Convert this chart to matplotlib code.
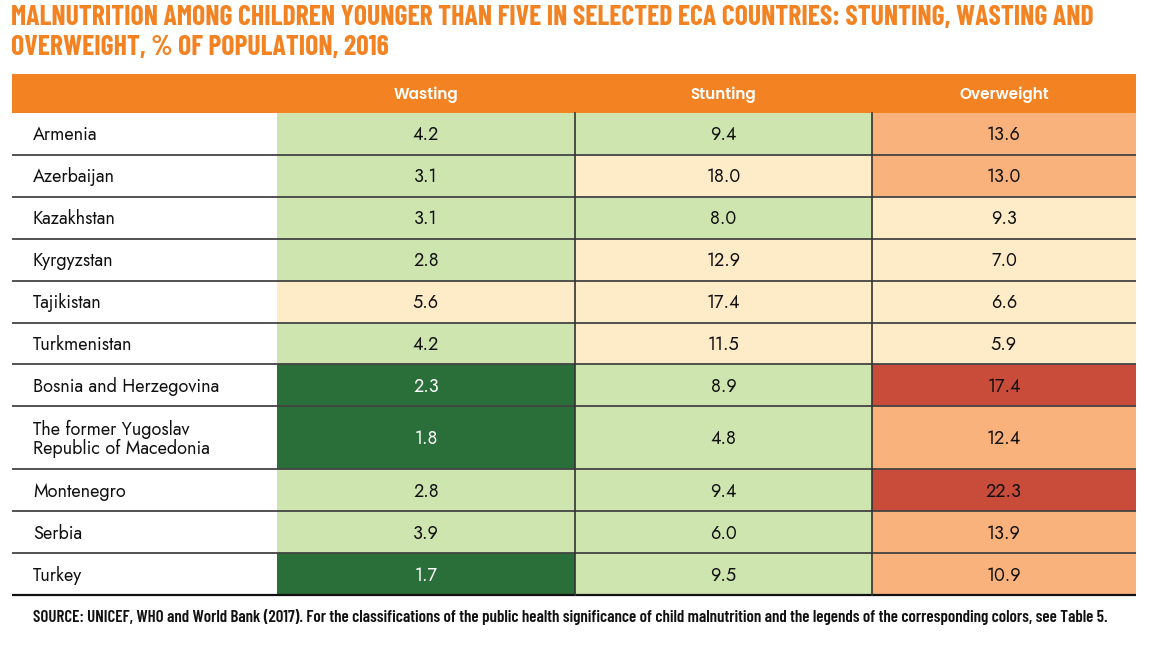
import matplotlib
matplotlib.use("Agg")
import matplotlib.pyplot as plt
from matplotlib.patches import Rectangle

title_lines = ["MALNUTRITION AMONG CHILDREN YOUNGER THAN FIVE IN SELECTED ECA COUNTRIES: STUNTING, WASTING AND",
               "OVERWEIGHT, % OF POPULATION, 2016"]
source = ("SOURCE: UNICEF, WHO and World Bank (2017). For the classifications of the public health significance "
          "of child malnutrition and the legends of the corresponding colors, see Table 5.")

columns = ["Wasting", "Stunting", "Overweight"]
countries = ["Armenia", "Azerbaijan", "Kazakhstan", "Kyrgyzstan", "Tajikistan", "Turkmenistan",
             "Bosnia and Herzegovina", "The former Yugoslav\nRepublic of Macedonia", "Montenegro",
             "Serbia", "Turkey"]
wasting = [4.2, 3.1, 3.1, 2.8, 5.6, 4.2, 2.3, 1.8, 2.8, 3.9, 1.7]
stunting = [9.4, 18.0, 8.0, 12.9, 17.4, 11.5, 8.9, 4.8, 9.4, 6.0, 9.5]
overweight = [13.6, 13.0, 9.3, 7.0, 6.6, 5.9, 17.4, 12.4, 22.3, 13.9, 10.9]

# public health significance class per cell (vl, l, m, h, vh)
wasting_cls = ["l", "l", "l", "l", "m", "l", "vl", "vl", "l", "l", "vl"]
stunting_cls = ["l", "m", "l", "m", "m", "m", "l", "l", "l", "l", "l"]
overweight_cls = ["h", "h", "m", "m", "m", "m", "vh", "h", "vh", "h", "h"]

cls_colors = {"vl": "#2a6e3a", "l": "#cee5b0", "m": "#feebc8", "h": "#fab27d", "vh": "#c84c39"}
cls_text = {"vl": "white", "l": "#111111", "m": "#111111", "h": "#111111", "vh": "#111111"}

ORANGE = "#f28222"
W, H = 1161, 653
fig = plt.figure(figsize=(W / 100, H / 100), dpi=100)
ax = fig.add_axes([0, 0, 1, 1])
ax.set_xlim(0, W)
ax.set_ylim(H, 0)
ax.axis("off")
renderer = fig.canvas.get_renderer()

title_font = ["Barlow Condensed", "Roboto Condensed", "DejaVu Sans"]
foot_font = ["Barlow Condensed", "Roboto Condensed", "DejaVu Sans"]
body_font = ["Jost", "Questrial", "Lato", "DejaVu Sans"]
head_font = ["Poppins", "Lato", "DejaVu Sans"]


def fit_text(x, y, s, target_w, size, **kw):
    t = ax.text(x, y, s, fontsize=size, **kw)
    w = t.get_window_extent(renderer).width
    t.set_fontsize(size * target_w / w)
    return t


t1 = fit_text(11, 18, title_lines[0], 1082, 22, ha="left", va="center", fontweight="bold",
              color=ORANGE, family=title_font)
ax.text(11, 47, title_lines[1], ha="left", va="center", fontsize=t1.get_fontsize(),
        fontweight="bold", color=ORANGE, family=title_font)

x_left, x_right = 12, 1136
col_edges = [277, 575, 872, 1136]
header_top, header_bot = 74, 113
ax.add_patch(Rectangle((x_left, header_top), x_right - x_left, header_bot - header_top,
                       facecolor=ORANGE, edgecolor="none"))
for j, name in enumerate(columns):
    cx = (col_edges[j] + col_edges[j + 1]) / 2
    ax.text(cx, (header_top + header_bot) / 2 + 1, name, ha="center", va="center",
            fontsize=11, fontweight="semibold", color="white", family=head_font)

row_h = 41.9
tall_h = 63
values = [wasting, stunting, overweight]
classes = [wasting_cls, stunting_cls, overweight_cls]

y = header_bot
for i, c in enumerate(countries):
    h = tall_h if "\n" in c else row_h
    for j in range(3):
        k = classes[j][i]
        ax.add_patch(Rectangle((col_edges[j], y), col_edges[j + 1] - col_edges[j], h,
                               facecolor=cls_colors[k], edgecolor="none"))
        ax.text((col_edges[j] + col_edges[j + 1]) / 2, y + h / 2 + 1, f"{values[j][i]:.1f}",
                ha="center", va="center", fontsize=13, color=cls_text[k], family=body_font)
    ax.text(33, y + h / 2 + 1, c, ha="left", va="center", fontsize=13, color="#111111",
            family=body_font, linespacing=1.0)
    y += h
    lw = 1.6 if i == len(countries) - 1 else 1.3
    col = "#111111" if i == len(countries) - 1 else "#444444"
    ax.plot([x_left, x_right], [y, y], color=col, lw=lw, solid_capstyle="butt")

for xv in col_edges[1:3]:
    ax.plot([xv, xv], [header_bot, y], color="#333333", lw=1.2)

fit_text(33, 617, source, 1079, 12, ha="left", va="center", fontweight="semibold",
         color="#111111", family=foot_font)

fig.savefig("out.png", dpi=100)
